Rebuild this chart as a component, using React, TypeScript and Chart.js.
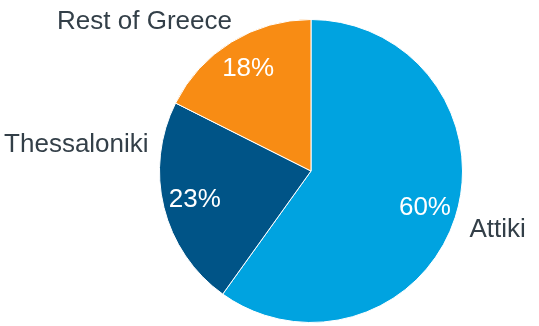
import React, { useEffect, useRef } from "react";
import { Chart, registerables } from "chart.js";

Chart.register(...registerables);

const categories = ["Attiki", "Thessaloniki", "Rest of Greece"];
const shares = [59.9, 22.5, 17.6];
const sliceColors = ["#00A3E0", "#005487", "#F88C14"];

// label placement relative to pie centre, in radius units: [dx, dy(baseline), align]
const labelPlacement: [number, number, CanvasTextAlign][] = [
  [1.046, 0.434, "left"],
  [-1.072, -0.125, "right"],
  [-1.099, -0.934, "center"],
];

const labelPlugin = {
  id: "pieLabels",
  afterDatasetsDraw(chart: any) {
    const ctx = chart.ctx as CanvasRenderingContext2D;
    const meta = chart.getDatasetMeta(0);
    ctx.save();
    meta.data.forEach((arc: any, i: number) => {
      const { x, y, startAngle, endAngle, outerRadius } = arc.getProps(
        ["x", "y", "startAngle", "endAngle", "outerRadius"],
        true
      );
      const mid = (startAngle + endAngle) / 2;
      const r = outerRadius * 0.79;
      ctx.fillStyle = "#FFFFFF";
      ctx.font = "26px 'Liberation Sans', Arial, sans-serif";
      ctx.textAlign = "center";
      ctx.textBaseline = "middle";
      ctx.fillText(Math.round(shares[i]) + "%", x + Math.cos(mid) * r, y + Math.sin(mid) * r);

      const [dx, dy, align] = labelPlacement[i];
      ctx.fillStyle = "#333F48";
      ctx.textAlign = align;
      ctx.textBaseline = "alphabetic";
      ctx.fillText(categories[i], x + dx * outerRadius, y + dy * outerRadius);
    });
    ctx.restore();
  },
};

export default function App() {
  const ref = useRef<HTMLCanvasElement | null>(null);
  useEffect(() => {
    if (!ref.current) return;
    const chart = new Chart(ref.current, {
      type: "pie",
      data: {
        labels: categories,
        datasets: [
          {
            data: shares,
            backgroundColor: sliceColors,
            borderColor: "#FFFFFF",
            borderWidth: 1,
          },
        ],
      },
      options: {
        animation: false,
        responsive: false,
        maintainAspectRatio: false,
        layout: { padding: { top: 19, bottom: 3, left: 159, right: 76 } },
        plugins: {
          legend: { display: false },
          tooltip: { enabled: false },
        },
      },
      plugins: [labelPlugin],
    });
    return () => chart.destroy();
  }, []);
  return (
    <div style={{ position: "fixed", left: 0, top: 0, width: 539, height: 326, background: "#fff" }}>
      <canvas ref={ref} width={539} height={326} style={{ width: 539, height: 326 }} />
    </div>
  );
}
